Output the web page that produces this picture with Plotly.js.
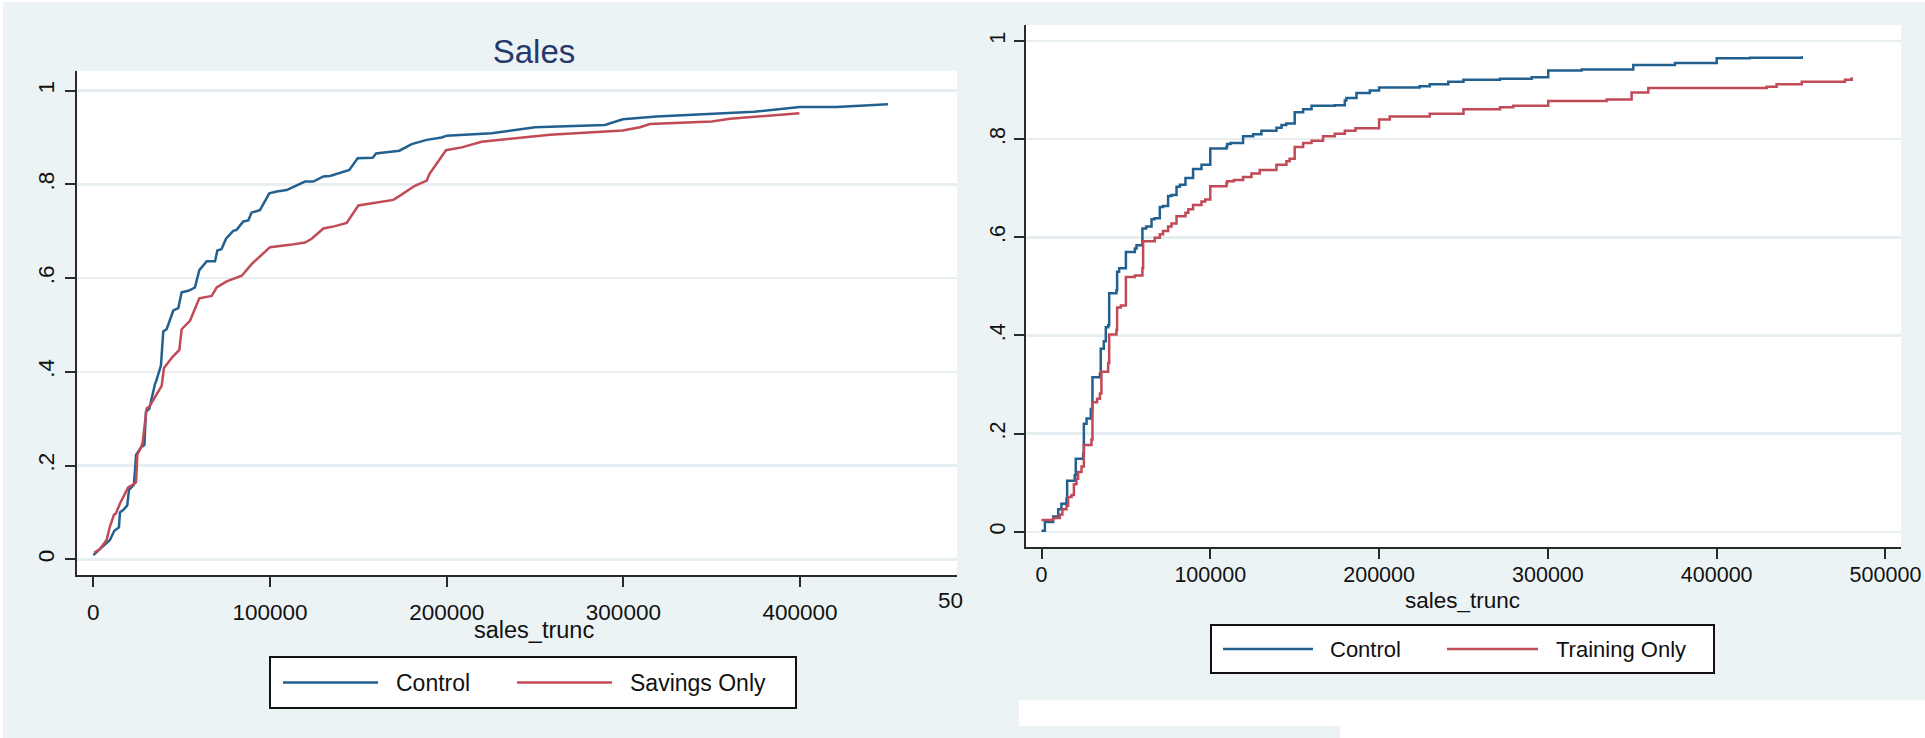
<!DOCTYPE html>
<html>
<head>
<meta charset="utf-8">
<script src="https://cdn.plot.ly/plotly-3.0.1.min.js"></script>
<style>
  html, body { margin: 0; padding: 0; background: #ffffff; }
  #chart { width: 1925px; height: 738px; }
</style>
</head>
<body>
<div id="chart"></div>
<script>
// Empirical CDFs of truncated sales, by treatment group

// Left panel: Control vs Savings Only
const salesControlX = [0, 6600, 9400, 11900, 14500, 15100, 17400, 19200, 20200, 23000, 24200, 27000, 28900, 29800, 31700, 34900, 35800, 38300, 39600, 41500, 45300, 48100, 50000, 53800, 57500, 60000, 64200, 68900, 70200, 72600, 75100, 79200, 81100, 84900, 87700, 89600, 94300, 99600, 103800, 109400, 119800, 124500, 130200, 134000, 141500, 144900, 149600, 158100, 160000, 167000, 173200, 180200, 188700, 197200, 200000, 225500, 237700, 250000, 289500, 299700, 318700, 350200, 374000, 399800, 420500, 449700];
const salesControlY = [0.009, 0.031, 0.041, 0.061, 0.068, 0.100, 0.107, 0.115, 0.148, 0.159, 0.223, 0.239, 0.244, 0.315, 0.321, 0.374, 0.383, 0.414, 0.486, 0.491, 0.531, 0.536, 0.570, 0.573, 0.580, 0.617, 0.636, 0.636, 0.659, 0.662, 0.684, 0.701, 0.703, 0.721, 0.723, 0.740, 0.745, 0.781, 0.785, 0.788, 0.806, 0.806, 0.817, 0.818, 0.827, 0.831, 0.856, 0.857, 0.866, 0.870, 0.872, 0.886, 0.895, 0.900, 0.904, 0.909, 0.915, 0.922, 0.927, 0.939, 0.945, 0.951, 0.955, 0.965, 0.965, 0.971];

const savingsOnlyX = [500, 3800, 7500, 9400, 11700, 12800, 15100, 19800, 22300, 24200, 24900, 26800, 27900, 30200, 31700, 38700, 40000, 44900, 48700, 50000, 54700, 60000, 67000, 69800, 75500, 84000, 89600, 100000, 111300, 119800, 123600, 130200, 136800, 143400, 150000, 159400, 169800, 173600, 182000, 188700, 190200, 199600, 208500, 219800, 249000, 258500, 299600, 309400, 315000, 350000, 360300, 399600];
const savingsOnlyY = [0.014, 0.022, 0.041, 0.070, 0.095, 0.098, 0.119, 0.154, 0.159, 0.164, 0.223, 0.237, 0.249, 0.322, 0.326, 0.370, 0.408, 0.432, 0.447, 0.491, 0.509, 0.557, 0.562, 0.580, 0.593, 0.605, 0.630, 0.666, 0.671, 0.676, 0.684, 0.706, 0.711, 0.718, 0.755, 0.761, 0.767, 0.776, 0.797, 0.808, 0.822, 0.873, 0.879, 0.891, 0.903, 0.906, 0.915, 0.922, 0.929, 0.934, 0.940, 0.952];

// Right panel: Control vs Training Only (step functions)
const trainControlX = [0, 2000, 6900, 9900, 11800, 14800, 15200, 19700, 20300, 24700, 25100, 26700, 29200, 30200, 34600, 35100, 36900, 38100, 39500, 40100, 44400, 44800, 46000, 50000, 55300, 56300, 59800, 62000, 65200, 67000, 70100, 72000, 75000, 77000, 80000, 82000, 85300, 89800, 94800, 100000, 109600, 110000, 112000, 119400, 125400, 130300, 139200, 142200, 145000, 150000, 155000, 160000, 173700, 179700, 180600, 186600, 194500, 200000, 224000, 230000, 241000, 250000, 271600, 290400, 300200, 320000, 350600, 375300, 400000, 419700, 450400];
const trainControlY = [0.002, 0.020, 0.031, 0.046, 0.057, 0.068, 0.104, 0.115, 0.149, 0.159, 0.220, 0.231, 0.250, 0.315, 0.322, 0.373, 0.388, 0.417, 0.421, 0.486, 0.492, 0.530, 0.537, 0.570, 0.577, 0.584, 0.618, 0.622, 0.637, 0.639, 0.662, 0.664, 0.684, 0.686, 0.703, 0.707, 0.721, 0.739, 0.748, 0.781, 0.784, 0.790, 0.792, 0.806, 0.810, 0.817, 0.823, 0.829, 0.832, 0.855, 0.861, 0.868, 0.869, 0.879, 0.884, 0.894, 0.899, 0.905, 0.908, 0.912, 0.917, 0.921, 0.923, 0.926, 0.940, 0.942, 0.951, 0.955, 0.965, 0.966, 0.969];

const trainingOnlyX = [0, 6900, 10900, 12400, 14800, 15800, 17800, 19200, 20700, 21700, 23700, 25100, 29600, 30200, 32900, 34600, 35500, 39500, 40100, 44400, 44800, 47000, 50000, 55300, 59800, 60200, 67100, 70100, 72000, 75000, 77000, 80000, 85300, 87000, 89800, 94800, 97000, 100000, 109600, 110000, 114000, 119400, 124400, 129300, 139200, 145100, 147000, 150000, 155000, 160000, 166800, 173700, 179700, 186000, 200000, 206300, 230000, 250000, 271600, 279500, 300200, 334800, 349600, 359500, 429600, 435500, 450400, 476000, 480000];
const trainingOnlyY = [0.024, 0.028, 0.035, 0.046, 0.053, 0.071, 0.075, 0.097, 0.108, 0.122, 0.133, 0.177, 0.188, 0.264, 0.271, 0.282, 0.326, 0.344, 0.402, 0.411, 0.457, 0.461, 0.519, 0.522, 0.537, 0.592, 0.599, 0.606, 0.613, 0.622, 0.628, 0.643, 0.650, 0.657, 0.666, 0.673, 0.677, 0.704, 0.710, 0.714, 0.717, 0.723, 0.730, 0.737, 0.748, 0.755, 0.760, 0.784, 0.792, 0.797, 0.806, 0.811, 0.817, 0.822, 0.840, 0.846, 0.852, 0.861, 0.865, 0.868, 0.878, 0.881, 0.895, 0.904, 0.907, 0.912, 0.917, 0.921, 0.926];

// Axis ticks (Stata-style labels)
const yTickVals = [0, 0.2, 0.4, 0.6, 0.8, 1];
const yTickText = ['0', '.2', '.4', '.6', '.8', '1'];
const xTickVals = [0, 100000, 200000, 300000, 400000, 500000];
const xTickText = ['0', '100000', '200000', '300000', '400000', '500000'];

const seriesNames = ['Control', 'Savings Only', 'Training Only'];

// ---- styling ----
const W = 1925, H = 738;
const px = v => v / W;          // pixel -> paper x
const py = v => 1 - v / H;      // pixel -> paper y
const FONT = 'Liberation Sans, Arial, Helvetica, sans-serif';
const BLUE = '#22608f';
const RED = '#c04a56';
const BG = '#ecf3f5';
const GRID = '#e6eef1';
const AXIS = '#2a2a2a';
const INK = '#111111';

function lineTrace(x, y, color, xa, ya, shape, name) {
  return {
    type: 'scatter', mode: 'lines', x: x, y: y, name: name,
    xaxis: xa, yaxis: ya, showlegend: false,
    line: { color: color, width: 2.5, shape: shape },
    hoverinfo: 'skip'
  };
}

const data = [
  lineTrace(salesControlX, salesControlY, BLUE, 'x', 'y', 'linear', seriesNames[0]),
  lineTrace(savingsOnlyX, savingsOnlyY, RED, 'x', 'y', 'linear', seriesNames[1]),
  lineTrace(trainControlX, trainControlY, BLUE, 'x2', 'y2', 'hv', seriesNames[0]),
  lineTrace(trainingOnlyX, trainingOnlyY, RED, 'x2', 'y2', 'hv', seriesNames[2])
];

function xAxis(domain, range, anchor, fontSize, standoff) {
  return {
    domain: domain, range: range, anchor: anchor,
    showline: true, linecolor: AXIS, linewidth: 2,
    ticks: 'outside', ticklen: 10, tickwidth: 2, tickcolor: AXIS,
    tickvals: xTickVals, ticktext: xTickText,
    tickfont: { family: FONT, size: fontSize, color: INK },
    ticklabelstandoff: standoff,
    showgrid: false, zeroline: false, fixedrange: true
  };
}

function yAxis(domain, range, anchor, fontSize, standoff) {
  return {
    domain: domain, range: range, anchor: anchor,
    showline: true, linecolor: AXIS, linewidth: 2,
    ticks: 'outside', ticklen: 10, tickwidth: 2, tickcolor: AXIS,
    tickvals: yTickVals, ticktext: yTickText, tickangle: -90,
    tickfont: { family: FONT, size: fontSize, color: INK },
    ticklabelstandoff: standoff,
    showgrid: true, gridcolor: GRID, gridwidth: 2.5,
    zeroline: false, fixedrange: true
  };
}

function rect(x0, y0, x1, y1, fill, layer, lineColor, lineWidth) {
  return {
    type: 'rect', xref: 'paper', yref: 'paper',
    x0: px(x0), x1: px(x1), y0: py(y1), y1: py(y0),
    fillcolor: fill, layer: layer,
    line: { color: lineColor || fill, width: lineWidth || 0 }
  };
}
function hline(x0, x1, y, color) {
  return {
    type: 'line', xref: 'paper', yref: 'paper', layer: 'above',
    x0: px(x0), x1: px(x1), y0: py(y), y1: py(y),
    line: { color: color, width: 2.5 }
  };
}
function label(text, x, y, size, anchor) {
  return {
    text: text, xref: 'paper', yref: 'paper', x: px(x), y: py(y),
    xanchor: anchor || 'left', yanchor: 'middle', showarrow: false,
    font: { family: FONT, size: size, color: INK }
  };
}

const shapes = [
  // white page margins around the two graph regions
  rect(0, 0, W, 2, '#ffffff', 'below'),
  rect(0, 0, 3, H, '#ffffff', 'below'),
  rect(1019, 700, W, 726, '#ffffff', 'below'),
  rect(1340, 726, W, H, '#ffffff', 'below'),
  // legend boxes and keys
  rect(270, 657, 796, 708, '#ffffff', 'above', '#111111', 2),
  hline(283, 378, 682.5, BLUE),
  hline(517, 612, 682.5, RED),
  rect(1211, 625, 1714, 673, '#ffffff', 'above', '#111111', 2),
  hline(1223, 1313, 649, BLUE),
  hline(1447, 1538, 649, RED)
];

const annotations = [
  // x axis titles
  label('sales_trunc', 534, 630, 23.5, 'center'),
  label('sales_trunc', 1462, 600, 22.5, 'center'),
  // legend entries
  label(seriesNames[0], 394, 683, 23),
  label(seriesNames[1], 628, 683, 23),
  label(seriesNames[0], 1328, 649.5, 22),
  label(seriesNames[2], 1554, 649.5, 22),
  // last x tick of the left graph, cut at the graph edge
  label('50', 936, 600, 22.5)
];

const layout = {
  width: W, height: H,
  margin: { l: 0, r: 0, t: 0, b: 0, pad: 0 },
  paper_bgcolor: BG, plot_bgcolor: '#ffffff',
  showlegend: false,
  title: {
    text: 'Sales', x: px(534), xref: 'paper', xanchor: 'center',
    y: py(51), yref: 'paper', yanchor: 'middle',
    font: { family: FONT, size: 33, color: '#25386c' }
  },
  xaxis: xAxis([px(77), px(957)], [-9225, 488800], 'y', 22.5, 6),
  yaxis: yAxis([py(575), py(71)], [-0.0335, 1.042], 'x', 22.5, 2),
  xaxis2: xAxis([px(1026), px(1901)], [-9180, 509200], 'y2', 21.5, -3),
  yaxis2: yAxis([py(547), py(25)], [-0.031, 1.0326], 'x2', 21.5, 0),
  shapes: shapes,
  annotations: annotations
};

Plotly.newPlot('chart', data, layout, { displayModeBar: false, staticPlot: true });
</script>
</body>
</html>
